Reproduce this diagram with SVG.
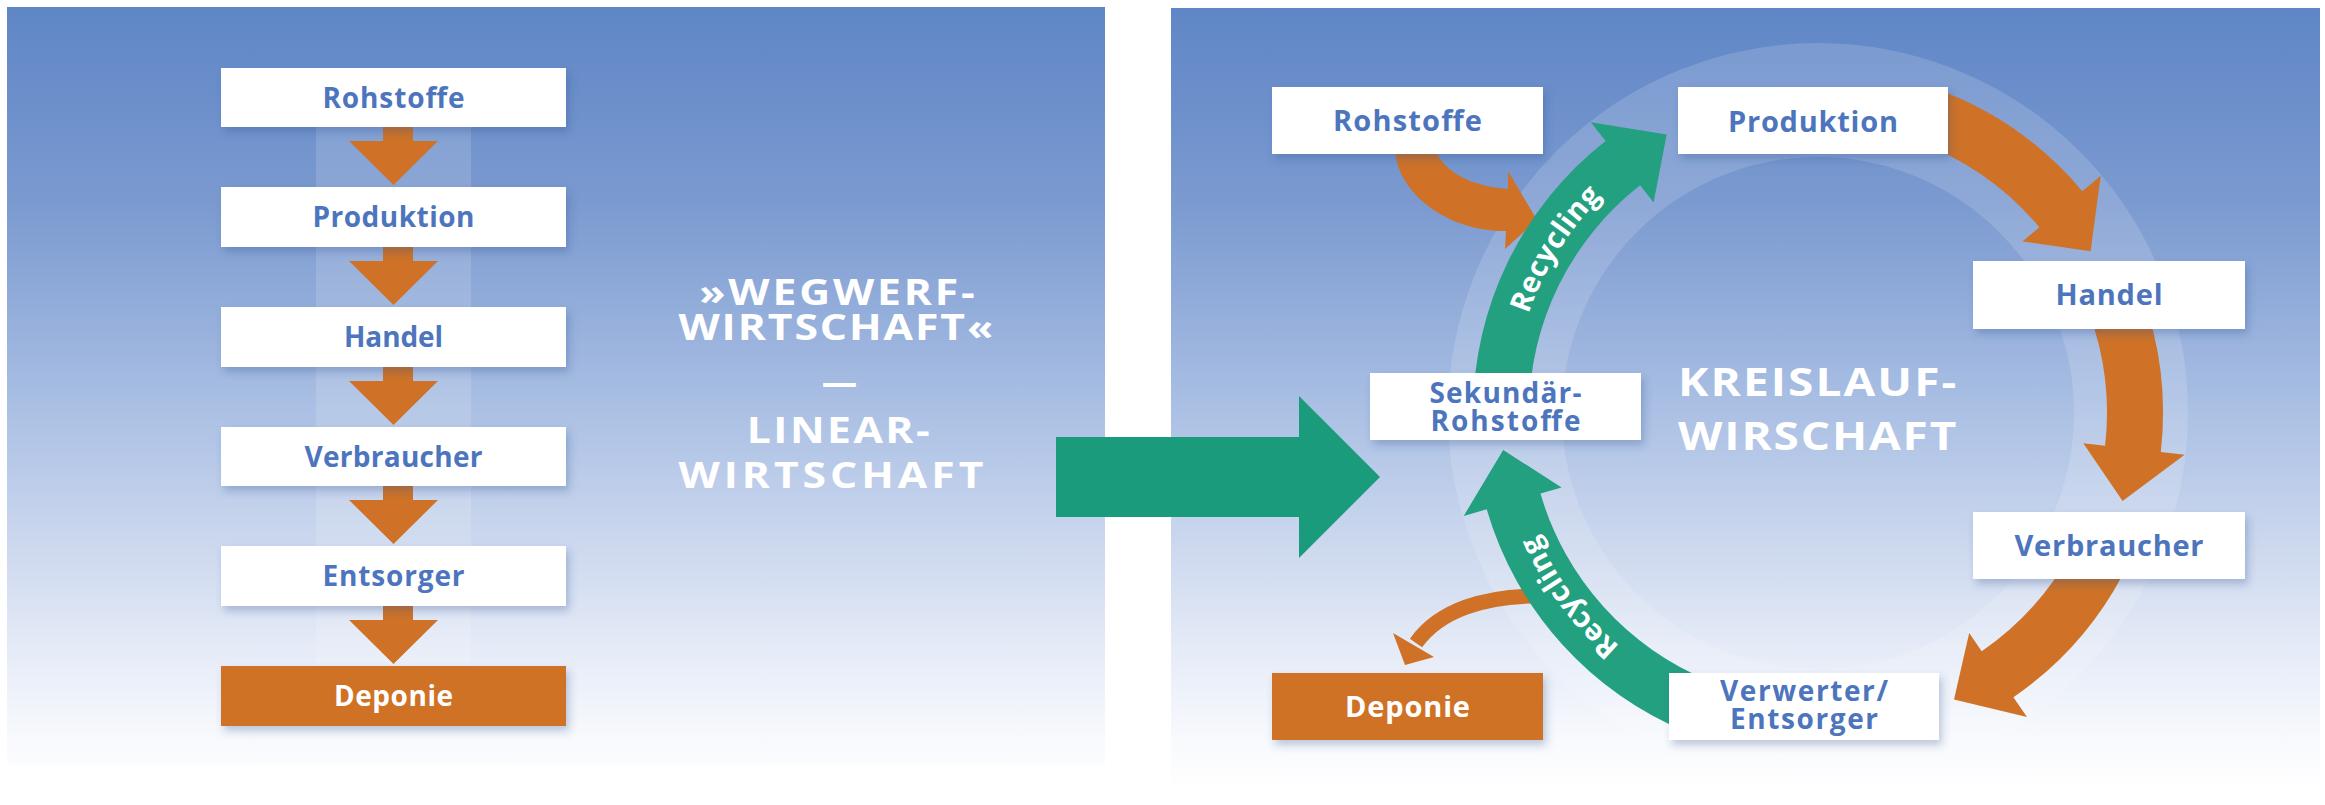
<svg xmlns="http://www.w3.org/2000/svg" width="2325" height="805" viewBox="0 0 2325 805">
  <defs>
    <linearGradient id="sky" gradientUnits="userSpaceOnUse" x1="0" y1="8" x2="0" y2="790">
      <stop offset="0" stop-color="#5f86c6"/>
      <stop offset="0.25" stop-color="#7b9ad0"/>
      <stop offset="0.5" stop-color="#a8bee3"/>
      <stop offset="0.68" stop-color="#cbd7ee"/>
      <stop offset="0.82" stop-color="#e5ebf7"/>
      <stop offset="0.93" stop-color="#f7f9fd"/>
      <stop offset="1" stop-color="#ffffff"/>
    </linearGradient>
    <filter id="shadow" x="-10%" y="-20%" width="125%" height="160%">
      <feDropShadow dx="3" dy="5" stdDeviation="4" flood-color="#2c4f8f" flood-opacity="0.3"/>
    </filter>
    <path id="arcUp" d="M1512.2,402.3 A306,306 0 0 1 1674.3,142.8"/>
    <path id="arcDown" d="M1696,693.6 A306,306 0 0 1 1514,447.6"/>
  </defs>
  <style>
    .box { fill: #ffffff; filter: url(#shadow); }
    .dump { fill: #cf7227; filter: url(#shadow); }
    .lbl { font-family: "Open Sans", "Liberation Sans", sans-serif; font-weight: 700; fill: #4d75bd; text-anchor: middle; }
    .lbl-w { fill: #ffffff; }
    .head { font-family: "Open Sans", "Liberation Sans", sans-serif; font-weight: 700; fill: #ffffff; }
    .orange { fill: #cf7227; }
    .green { fill: #23a07f; }
    .rec { font-family: "Open Sans", "Liberation Sans", sans-serif; font-weight: 700; font-size: 29px; fill: #ffffff; letter-spacing: 0.5px; }
  </style>

  <rect width="2325" height="805" fill="#ffffff"/>

  <!-- panels -->
  <rect x="7" y="7" width="1098" height="758" fill="url(#sky)"/>
  <rect x="1171" y="8" width="1149" height="797" fill="url(#sky)"/>

  <!-- light guide band behind the linear chain -->
  <rect x="316" y="127" width="155" height="540" fill="#ffffff" fill-opacity="0.14"/>
  <!-- light ring of the cycle -->
  <circle cx="1818" cy="413" r="313" fill="none" stroke="#ffffff" stroke-opacity="0.15" stroke-width="114"/>

  <g id="connectors">
    <!-- linear chain arrows -->
    <g class="orange">
      <polygon points="383,127 413,127 413,141 438,141 393.5,185 349,141 383,141"/>
      <polygon points="383,247 413,247 413,261 438,261 393.5,305 349,261 383,261"/>
      <polygon points="383,367 413,367 413,381 438,381 393.5,425 349,381 383,381"/>
      <polygon points="383,486 413,486 413,500 438,500 393.5,544 349,500 383,500"/>
      <polygon points="383,606 413,606 413,620 438,620 393.5,664 349,620 383,620"/>
    </g>

    <!-- transition arrow -->
    <polygon fill="#1a9b7b" points="1056,437 1299,437 1299,396 1380,477 1299,558 1299,517 1056,517"/>

    <!-- cycle: orange flow -->
    <path class="orange" d="M1395,150 C1398,195 1450,232 1506,231 L1505,249 L1537,220 L1508,171 L1508,189 C1470,186 1445,172 1435,150 Z"/>
    <path class="orange" d="M1936,88.8 A345,345 0 0 1 2082.3,191.2 L2100.7,175.8 L2090.6,251.2 L2022.5,241.4 L2039.4,227.2 A289,289 0 0 0 1916.8,141.4 Z"/>
    <path class="orange" d="M2142.2,295 A345,345 0 0 1 2160.8,452.1 L2184.6,454.8 L2122.6,500.9 L2083.3,443.2 L2105.1,445.7 A289,289 0 0 0 2089.6,314.2 Z"/>
    <path class="orange" d="M2122.6,575 A345,345 0 0 1 2013.4,697.3 L2027,717.1 L1954,699.4 L1969.2,633 L1981.7,651.2 A289,289 0 0 0 2073.2,548.7 Z"/>
    <path d="M1550,596 C1482,594 1438,612 1416,643" fill="none" stroke="#cf7227" stroke-width="15"/>
    <polygon class="orange" points="1393,633 1434,657 1405,665"/>

    <!-- cycle: recycling -->
    <path class="green" d="M1473,413 A345,345 0 0 1 1605.6,141.1 L1590.8,122.2 L1666.7,134.4 L1653.6,202.6 L1640.1,185.3 A289,289 0 0 0 1529,413 Z"/>
    <path class="green" d="M1688.8,732.9 A345,345 0 0 1 1486.7,509.3 L1463.7,515.9 L1503.2,450 L1561.6,487.5 L1540.5,493.6 A289,289 0 0 0 1709.7,681 Z"/>
    <text class="rec"><textPath href="#arcUp" startOffset="50%" text-anchor="middle">Recycling</textPath></text>
    <text class="rec"><textPath href="#arcDown" startOffset="50%" text-anchor="middle">Recycling</textPath></text>
  </g>

  <!-- linear economy -->
  <g id="lin-rohstoffe">
    <rect class="box" x="221" y="68" width="345" height="59"/>
    <text class="lbl" x="393.5" y="108" font-size="28" textLength="142">Rohstoffe</text>
  </g>
  <g id="lin-produktion">
    <rect class="box" x="221" y="187" width="345" height="60"/>
    <text class="lbl" x="393.5" y="227" font-size="28" textLength="162">Produktion</text>
  </g>
  <g id="lin-handel">
    <rect class="box" x="221" y="307" width="345" height="60"/>
    <text class="lbl" x="393.5" y="347" font-size="28" textLength="99">Handel</text>
  </g>
  <g id="lin-verbraucher">
    <rect class="box" x="221" y="427" width="345" height="59"/>
    <text class="lbl" x="393.5" y="467" font-size="28" textLength="178">Verbraucher</text>
  </g>
  <g id="lin-entsorger">
    <rect class="box" x="221" y="546" width="345" height="60"/>
    <text class="lbl" x="393.5" y="586" font-size="28" textLength="142">Entsorger</text>
  </g>
  <g id="lin-deponie">
    <rect class="dump" x="221" y="666" width="345" height="60"/>
    <text class="lbl lbl-w" x="393.5" y="706" font-size="28" textLength="119">Deponie</text>
  </g>

  <!-- heading of the linear economy, set wide -->
  <g id="title-linear" class="head" font-size="35" text-anchor="middle" transform="translate(837,0) scale(1.22,1)">
    <text x="0" y="305" textLength="226">»WEGWERF-</text>
    <text x="-1" y="340" textLength="258">WIRTSCHAFT«</text>
    <text x="2" y="395" textLength="29" lengthAdjust="spacingAndGlyphs">—</text>
    <text x="1" y="443" textLength="150">LINEAR-</text>
    <text x="-5" y="488" textLength="250">WIRTSCHAFT</text>
  </g>

  <!-- circular economy -->
  <g id="cyc-rohstoffe">
    <rect class="box" x="1272" y="87" width="271" height="67"/>
    <text class="lbl" x="1407.5" y="131" font-size="29" textLength="149">Rohstoffe</text>
  </g>
  <g id="cyc-produktion">
    <rect class="box" x="1678" y="87" width="270" height="67"/>
    <text class="lbl" x="1813" y="132" font-size="29" textLength="170">Produktion</text>
  </g>
  <g id="cyc-handel">
    <rect class="box" x="1973" y="261" width="272" height="68"/>
    <text class="lbl" x="2109" y="305" font-size="29" textLength="107">Handel</text>
  </g>
  <g id="cyc-verbraucher">
    <rect class="box" x="1973" y="512" width="272" height="67"/>
    <text class="lbl" x="2109" y="556" font-size="29" textLength="189">Verbraucher</text>
  </g>
  <g id="cyc-verwerter">
    <rect class="box" x="1669" y="673" width="270" height="67"/>
    <text class="lbl" x="1804" y="701" font-size="28" textLength="168">Verwerter/</text>
    <text class="lbl" x="1804" y="729" font-size="28" textLength="148">Entsorger</text>
  </g>
  <g id="cyc-deponie">
    <rect class="dump" x="1272" y="673" width="271" height="67"/>
    <text class="lbl lbl-w" x="1407.5" y="717" font-size="29" textLength="125">Deponie</text>
  </g>
  <g id="cyc-sekundaer">
    <rect class="box" x="1370" y="373" width="271" height="67"/>
    <text class="lbl" x="1505.5" y="403" font-size="28" textLength="152">Sekundär-</text>
    <text class="lbl" x="1505.5" y="431" font-size="28" textLength="150">Rohstoffe</text>
  </g>

  <!-- heading of the circular economy, set wide -->
  <g id="title-cycle" class="head" font-size="40" transform="translate(1678,0) scale(1.15,1)">
    <text x="0" y="396" textLength="242">KREISLAUF-</text>
    <text x="0" y="450" textLength="242">WIRSCHAFT</text>
  </g>
</svg>
